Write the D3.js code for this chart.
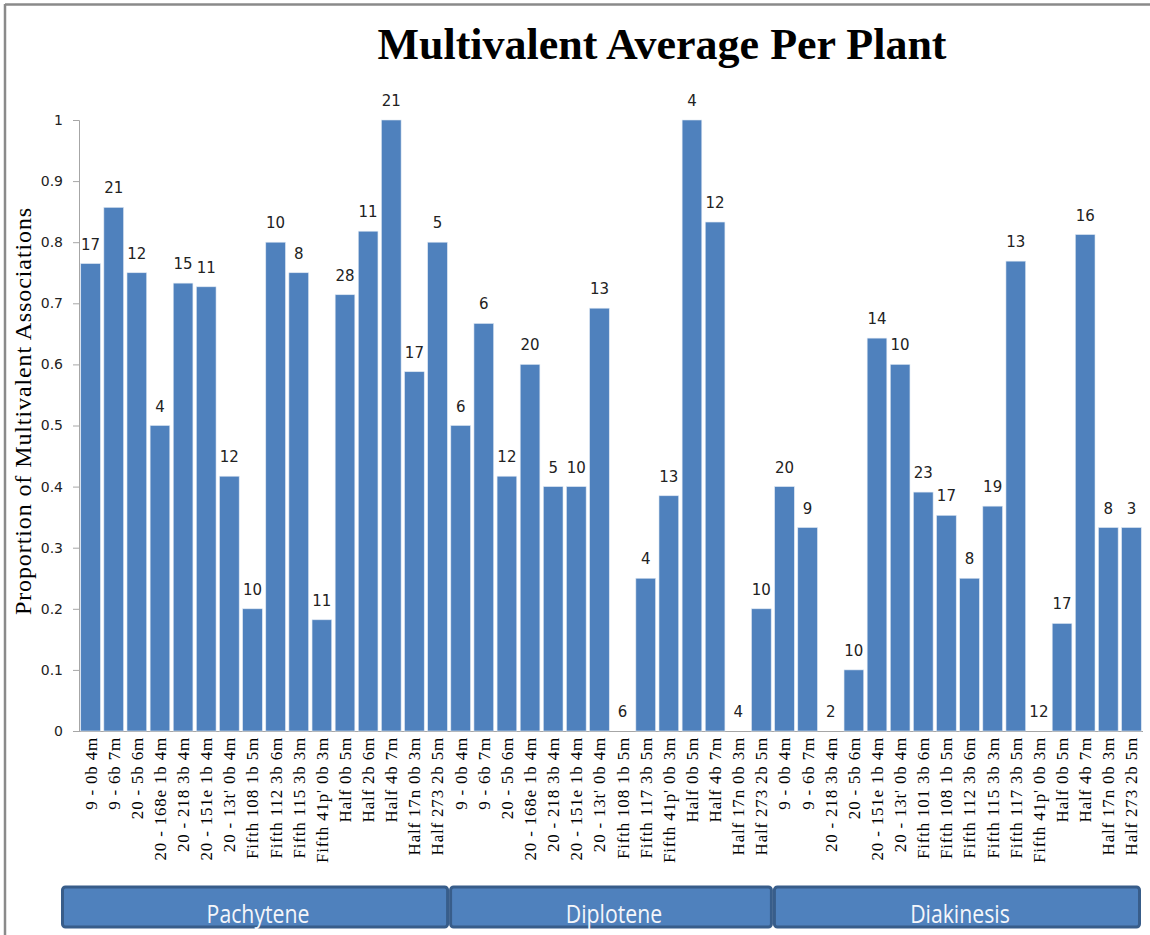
<!DOCTYPE html>
<html><head><meta charset="utf-8">
<script src="https://cdn.jsdelivr.net/npm/d3@7"></script>
<style>html,body{margin:0;padding:0;background:#fff;}</style>
</head><body>
<script>
const categories = [
 "9 - 0b 4m","9 - 6b 7m","20 - 5b 6m","20 - 168e 1b 4m","20 - 218 3b 4m","20 - 151e 1b 4m","20 - 13t' 0b 4m","Fifth 108 1b 5m","Fifth 112 3b 6m","Fifth 115 3b 3m","Fifth 41p' 0b 3m","Half 0b 5m","Half 2b 6m","Half 4b 7m","Half 17n 0b 3m","Half 273 2b 5m",
 "9 - 0b 4m","9 - 6b 7m","20 - 5b 6m","20 - 168e 1b 4m","20 - 218 3b 4m","20 - 151e 1b 4m","20 - 13t' 0b 4m","Fifth 108 1b 5m","Fifth 117 3b 5m","Fifth 41p' 0b 3m","Half 0b 5m","Half 4b 7m","Half 17n 0b 3m","Half 273 2b 5m",
 "9 - 0b 4m","9 - 6b 7m","20 - 218 3b 4m","20 - 5b 6m","20 - 151e 1b 4m","20 - 13t' 0b 4m","Fifth 101 3b 6m","Fifth 108 1b 5m","Fifth 112 3b 6m","Fifth 115 3b 3m","Fifth 117 3b 5m","Fifth 41p' 0b 3m","Half 0b 5m","Half 4b 7m","Half 17n 0b 3m","Half 273 2b 5m"
];
const values = [
 0.765,0.857,0.75,0.5,0.733,0.727,0.417,0.2,0.8,0.75,0.182,0.714,0.818,1.0,0.588,0.8,
 0.5,0.667,0.417,0.6,0.4,0.4,0.692,0,0.25,0.385,1.0,0.833,0,0.2,
 0.4,0.333,0,0.1,0.643,0.6,0.391,0.353,0.25,0.368,0.769,0,0.176,0.8125,0.333,0.333
];
const counts = [
 17,21,12,4,15,11,12,10,10,8,11,28,11,21,17,5,
 6,6,12,20,5,10,13,6,4,13,4,12,4,10,
 20,9,2,10,14,10,23,17,8,19,13,12,17,16,8,3
];
const stages = ["Pachytene","Diplotene","Diakinesis"];
const stageSizes = [16,14,16];
const yTicks = [0,0.1,0.2,0.3,0.4,0.5,0.6,0.7,0.8,0.9,1];

const W=1150,H=935;
const svg=d3.select("body").append("svg").attr("width",W).attr("height",H);

// frame
svg.append("line").attr("x1",5).attr("x2",W).attr("y1",4.5).attr("y2",4.5).attr("stroke","#8a8a8a").attr("stroke-width",2.5);
svg.append("line").attr("x1",5).attr("x2",5).attr("y1",4).attr("y2",H).attr("stroke","#8a8a8a").attr("stroke-width",2.5);

const pLeft=79,pRight=1143,pTop=120,pBottom=731;
const idx=d3.range(values.length);
const x=d3.scaleBand().domain(idx).range([pLeft,pRight]).paddingInner(0.15).paddingOuter(0.075);
const y=d3.scaleLinear().domain([0,1]).range([pBottom,pTop]);

// title
svg.append("text").attr("x",662).attr("y",59).attr("text-anchor","middle")
 .style("font-family","'Liberation Serif','Times New Roman',serif").style("font-weight","bold").style("font-size","44px")
 .attr("fill","#000").text("Multivalent Average Per Plant");

// y axis
const yAxis=d3.axisLeft(y).tickValues(yTicks).tickSize(6).tickPadding(10).tickFormat(d=>d3.format("")(d));
const ga=svg.append("g").attr("transform",`translate(${pLeft},0)`).call(yAxis);
ga.select(".domain").attr("stroke","#a6a6a6");
ga.selectAll(".tick line").attr("stroke","#a6a6a6");
ga.selectAll(".tick text").style("font-family","'DejaVu Sans',sans-serif").style("font-size","14px").attr("fill","#222");

// x axis
const xAxis=d3.axisBottom(x).tickSize(0).tickPadding(6).tickFormat(i=>categories[i]);
const gx=svg.append("g").attr("transform",`translate(0,${pBottom})`).call(xAxis);
gx.select(".domain").attr("stroke","#a6a6a6").attr("d",`M${pLeft},0.5H${pRight}`);
gx.selectAll(".tick text").attr("transform","rotate(-90)").attr("text-anchor","end")
 .attr("x",-6).attr("y",0).attr("dy","0.35em")
 .style("font-family","'Liberation Serif','Times New Roman',serif").style("font-size","17px")
 .style("letter-spacing","0.8px").attr("fill","#000");

// y title
svg.append("text").attr("transform","translate(31,411) rotate(-90)").attr("text-anchor","middle")
 .style("font-family","'Liberation Serif','Times New Roman',serif").style("font-size","24px")
 .style("letter-spacing","0.9px").attr("fill","#000")
 .text("Proportion of Multivalent Associations");

// bars
svg.append("g").selectAll("rect").data(idx).join("rect")
 .attr("x",i=>x(i)).attr("width",x.bandwidth())
 .attr("y",i=>y(values[i])).attr("height",i=>pBottom-y(values[i]))
 .attr("fill","#4f81bd").attr("stroke","#dce6f2").attr("stroke-width",0.6);

// data labels
svg.append("g").selectAll("text").data(idx).join("text")
 .attr("x",i=>x(i)+x.bandwidth()/2).attr("y",i=>y(values[i])-14)
 .attr("text-anchor","middle")
 .style("font-family","'DejaVu Sans',sans-serif").style("font-size","15px").attr("fill","#222")
 .text(i=>counts[i]);

// stage boxes
let start=0;
const boxes=stages.map((s,k)=>{
  const i0=start, i1=start+stageSizes[k]-1; start+=stageSizes[k];
  const step=x.step();
  let x0=x(i0)-step*x.paddingInner()/2, x1=x(i1)+x.bandwidth()+step*x.paddingInner()/2;
  if(k===0) x0=61;
  if(k===stages.length-1) x1=1141;
  return {s,x0,x1};
});
const gb=svg.append("g");
gb.selectAll("rect").data(boxes).join("rect")
 .attr("x",d=>d.x0+1.5).attr("y",887).attr("width",d=>d.x1-d.x0-3).attr("height",40).attr("rx",3)
 .attr("fill","#4f81bd").attr("stroke","#385d8a").attr("stroke-width",3);
gb.selectAll("text").data(boxes).join("text")
 .attr("transform",d=>`translate(${(d.x0+d.x1)/2+3},923) scale(0.85,1)`).attr("text-anchor","middle")
 .style("font-family","'Open Sans',sans-serif").style("font-size","25px").attr("fill","#f4f6fa")
 .text(d=>d.s);
</script>
</body></html>
